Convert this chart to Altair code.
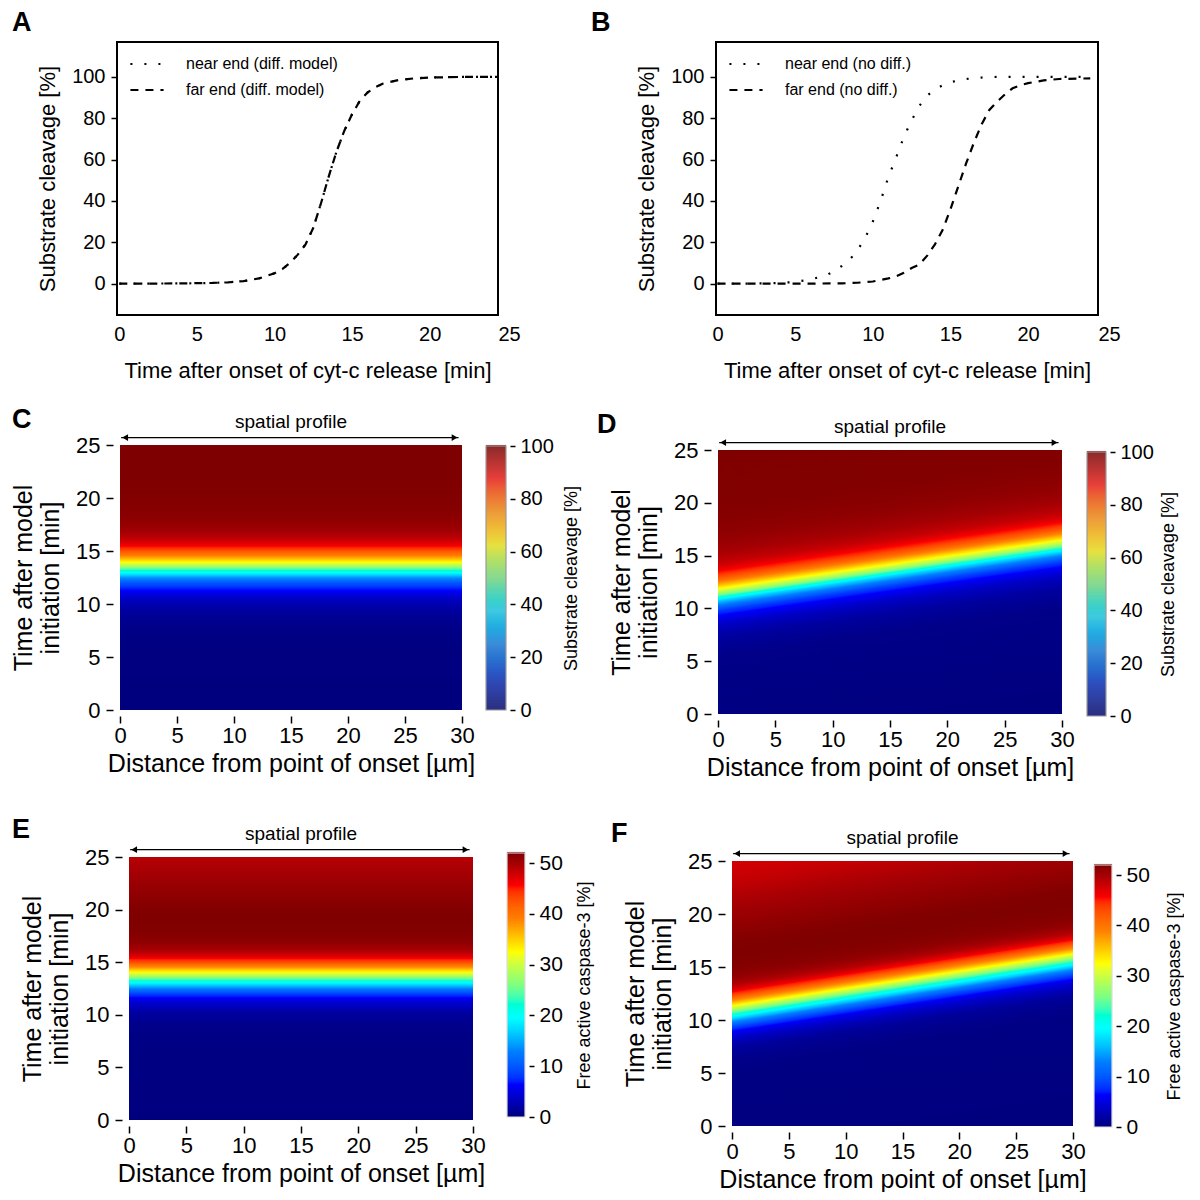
import altair as alt
import numpy as np
import pandas as pd

FONT = "Liberation Sans"

# ---------------- Panel A: substrate cleavage, diffusion model ----------------
A_time = [0, 2, 4, 6, 7, 8, 9, 10, 10.5, 11, 11.5, 12, 12.5, 13, 13.5, 14, 14.5,
          15, 15.5, 16, 16.5, 17, 18, 19, 20, 22, 24.4]
A_near = [0, 0, 0.1, 0.3, 0.6, 1.2, 2.5, 5, 7, 10, 14, 19, 27, 39, 52, 64, 74,
          82, 88.5, 92.5, 95, 96.8, 98.5, 99.3, 99.7, 100, 100]
A_far = [0, 0, 0.1, 0.3, 0.6, 1.2, 2.5, 5, 7, 10, 14, 19, 27, 39, 52, 64, 74,
         82, 88.5, 92.5, 95, 96.8, 98.5, 99.3, 99.7, 100, 100]
A_names = ["near end (diff. model)", "far end (diff. model)"]

# ---------------- Panel B: no diffusion ----------------
B_near_time = [0, 2, 4, 5, 6, 7, 7.5, 8, 8.5, 9, 9.5, 10, 10.5, 11, 11.5, 12, 12.5,
               13, 13.5, 14, 14.5, 15, 16, 17, 18, 20, 24]
B_near = [0, 0, 0.3, 0.8, 2, 4, 6, 8.5, 11.5, 16, 22, 30, 40, 51.5, 61, 71, 79,
          86, 91, 94, 96, 97.5, 99, 99.7, 100, 100, 100]
B_far_time = [0, 2, 4, 6, 8, 9, 10, 11, 11.5, 12, 12.5, 13, 13.5, 14, 14.5, 15, 15.5,
              16, 16.5, 17, 17.5, 18, 18.5, 19, 19.5, 20, 21, 22, 24]
B_far = [0, 0, 0, 0, 0.1, 0.4, 1, 2.5, 3.5, 5.2, 7.5, 9.2, 13.5, 19, 26, 36, 47,
         58, 68, 77, 84, 88, 91.5, 94.5, 96, 97, 98.3, 99, 99.3]
B_names = ["near end (no diff.)", "far end (no diff.)"]

# ---------------- Heat maps: profiles relative to the moving front ----------------
C_tau = A_time
C_val = A_near
C_front_dist = [0, 30]
C_front_time = [0, 0]

D_tau = [-14, -6, -5, -4, -3, -2.5, -2, -1.5, -1, -0.5, 0, 0.5, 1, 1.5, 2, 2.5, 3,
         4, 5, 6, 8, 14]
D_val = [0, 1, 2, 3.5, 6.5, 9, 12, 16, 24, 34, 50, 61, 71, 80, 86, 90, 93,
         96, 97.5, 98.5, 99.5, 100]
D_front_dist = [0, 30]
D_front_time = [11.3, 15.9]

EF_tau = [-14, -6, -5, -4, -3.5, -3, -2.5, -2, -1.5, -1, -0.5, 0, 0.5, 1, 1.5, 2,
          2.5, 3, 4, 5, 6, 7, 8, 9, 10, 11, 12, 14]
EF_val = [0, 0.3, 0.7, 1.5, 2.5, 3.8, 5.5, 8.5, 13, 19, 26, 32, 38, 43, 46.8, 49.3,
          50.5, 51.3, 51.8, 52, 51.8, 51.3, 50.8, 50.3, 49.7, 49, 48.3, 47.5]
E_front_dist = [0, 30]
E_front_time = [14.0, 14.0]
F_front_dist = [0, 30]
F_front_time = [11.3, 16.2]

JET = ["#00007F", "#0000FF", "#007FFF", "#00FFFF", "#7FFF7F",
       "#FFFF00", "#FF7F00", "#FF0000", "#7F0000"]
JET_SOFT = ["#2B2F80", "#2D4FC0", "#3C8CD8", "#40C8E0", "#88D890",
            "#E8E040", "#EC9A3A", "#E8403A", "#8C2A2A"]

T_MAX = 25.0


def band_table(tau, val, front_d, front_t, lo, hi, step=0.1, overlap=0.2):
    d0, d1 = front_d[0], front_d[-1]
    f0, f1 = front_t[0], front_t[-1]

    def front(d):
        return f0 + (f1 - f0) * (d - d0) / (d1 - d0)

    grid = np.arange(lo, hi + 1e-9, step)
    rows = []
    for i in range(len(grid) - 1):
        a, b = grid[i], grid[i + 1] + overlap
        v = float(np.interp((grid[i] + grid[i + 1]) / 2, tau, val))
        ds = {d0, d1}
        if f1 != f0:
            for off in (a, b):
                for lev in (0.0, T_MAX):
                    dd = d0 + (lev - off - f0) * (d1 - d0) / (f1 - f0)
                    if d0 < dd < d1:
                        ds.add(dd)
        pts = sorted(ds)
        lows = [min(max(front(d) + a, 0.0), T_MAX) for d in pts]
        highs = [min(max(front(d) + b, 0.0), T_MAX) for d in pts]
        if all(h - l < 1e-9 for l, h in zip(lows, highs)):
            continue
        for d, l, h in zip(pts, lows, highs):
            rows.append({"band": f"b{i:04d}", "d": d, "t": l, "t2": h, "v": v})
    return pd.DataFrame(rows)


def line_panel(frames, names, letter, letter_dx, width, height, xdom):
    df = pd.concat(frames, ignore_index=True)
    xmax = xdom[1]
    chart = alt.Chart(df).mark_line(color="black", strokeWidth=2.2, clip=True).encode(
        x=alt.X("t:Q",
                scale=alt.Scale(domain=xdom, nice=False, zero=False),
                axis=alt.Axis(title="Time after onset of cyt-c release [min]",
                              values=[0, 5, 10, 15, 20, xmax], domain=False, grid=False,
                              ticks=False, labelPadding=9, labelFontSize=20,
                              labelExpr="datum.value > 24 ? '25' : datum.label",
                              labelAlign={"condition": {"test": "datum.value > 24",
                                                        "value": "left"},
                                          "value": "center"},
                              titleFontSize=22, titlePadding=16, labelFlush=False)),
        y=alt.Y("v:Q",
                scale=alt.Scale(domain=[-15.2, 116.9], nice=False, zero=False),
                axis=alt.Axis(title="Substrate cleavage [%]",
                              values=[0, 20, 40, 60, 80, 100], domain=False, grid=False,
                              tickSize=6, tickWidth=1.5, tickColor="black",
                              labelPadding=6, labelFontSize=20, titleFontSize=22,
                              titlePadding=12)),
        strokeDash=alt.StrokeDash(
            "series:N",
            scale=alt.Scale(domain=names, range=[[2, 12], [8, 7]]),
            legend=alt.Legend(title=None, orient="none", legendX=12, legendY=4,
                              labelFontSize=16, symbolSize=1100, symbolStrokeWidth=2,
                              symbolStrokeColor="black", symbolType="stroke",
                              labelOffset=21, rowPadding=0, padding=0)),
        order="t:Q",
    ).properties(
        width=width, height=height,
        view=alt.ViewBackground(stroke="black", strokeWidth=2),
        title=alt.TitleParams(letter, anchor="start", frame="group", dx=letter_dx,
                              dy=28, fontSize=27, fontWeight="bold", offset=12,
                              baseline="alphabetic"),
    )
    return chart


def heat_panel(df, cmax, ticks, ctitle, W, H, xoff, yoff, bar_x, bar_y, bar_soft,
               bar_stroke, bar_label_size, bar_title_pad, letter, letter_dx, letter_dy):
    stops = list(np.linspace(0, cmax, 9))
    cscale = alt.Scale(domain=stops, range=JET)
    xs = alt.Scale(domain=[0, 30], range=[xoff, W], nice=False, zero=False)
    ys = alt.Scale(domain=[0, 25], range=[H, yoff], nice=False, zero=False)
    x_axis = alt.Axis(title="Distance from point of onset [µm]",
                      values=[0, 5, 10, 15, 20, 25, 30], domain=False,
                      grid=False, tickSize=7, tickWidth=1.5, tickColor="black",
                      offset=6, labelPadding=2, labelFontSize=22,
                      titleFontSize=25, titlePadding=5, labelFlush=False)
    y_axis = alt.Axis(title=["Time after model", "initiation [min]"],
                      values=[0, 5, 10, 15, 20, 25], domain=False, grid=False,
                      tickSize=7, tickWidth=1.5, tickColor="black",
                      offset=7 - xoff, labelPadding=6, labelFontSize=22,
                      titleFontSize=25, titlePadding=12, titleLineHeight=27)
    heat = alt.Chart(df).mark_area(clip=True).encode(
        x=alt.X("d:Q", scale=xs, axis=x_axis),
        y=alt.Y("t:Q", scale=ys, axis=y_axis),
        y2="t2:Q",
        color=alt.Color("v:Q", scale=cscale, legend=None),
        detail="band:N",
    )
    ann_df = pd.DataFrame({"x": [15], "y": [27.2], "label": ["spatial profile"]})
    text = alt.Chart(ann_df).mark_text(fontSize=19, baseline="middle", color="black").encode(
        x=alt.X("x:Q", scale=xs, axis=x_axis), y=alt.Y("y:Q", scale=ys, axis=y_axis),
        text="label:N")
    arrow_df = pd.DataFrame({"x": [0.1], "x2": [29.7], "y": [25.7]})
    rule = alt.Chart(arrow_df).mark_rule(color="black", strokeWidth=1.3).encode(
        x=alt.X("x:Q", scale=xs, axis=x_axis), x2="x2:Q",
        y=alt.Y("y:Q", scale=ys, axis=y_axis))
    head_df = pd.DataFrame({"x": [0.45, 29.35], "y": [25.7, 25.7],
                            "shape": ["triangle-left", "triangle-right"]})
    heads = alt.Chart(head_df).mark_point(filled=True, color="black", opacity=1, size=45).encode(
        x=alt.X("x:Q", scale=xs, axis=x_axis), y=alt.Y("y:Q", scale=ys, axis=y_axis),
        shape=alt.Shape("shape:N", scale=None))
    inner = alt.layer(heat, rule, heads, text)

    # colour bar drawn from the colour scale itself
    edges = np.linspace(0, cmax, 161)
    bar_df = pd.DataFrame({"v": edges[:-1], "v2": edges[1:] + cmax * 0.004,
                           "vm": (edges[:-1] + edges[1:]) / 2, "x0": 0, "x1": 1})
    bscale = alt.Scale(domain=stops, range=JET_SOFT if bar_soft else JET)
    bxs = alt.Scale(domain=[0, 1], range=[W + bar_x[0], W + bar_x[1]])
    bys = alt.Scale(domain=[0, cmax], range=[bar_y[1], bar_y[0]], nice=False, zero=False)
    b_axis = alt.Axis(orient="right", title=ctitle, values=ticks, domain=False,
                      grid=False, tickSize=5, tickWidth=1.5, tickColor="black",
                      offset=bar_x[1] + 4, labelPadding=5,
                      labelFontSize=bar_label_size,
                      titleFontSize=18, titleAngle=270, titleBaseline="top",
                      titlePadding=bar_title_pad, labelFlush=False)
    bar = alt.Chart(bar_df).mark_rect().encode(
        x=alt.X("x0:Q", scale=bxs, axis=None), x2="x1:Q",
        y=alt.Y("v:Q", scale=bys, axis=b_axis),
        y2="v2:Q",
        fill=alt.Fill("vm:Q", scale=bscale, legend=None),
    )
    frame_df = pd.DataFrame({"x0": [0], "x1": [1], "v": [0], "v2": [cmax]})
    frame = alt.Chart(frame_df).mark_rect(fillOpacity=0, stroke=bar_stroke,
                                          strokeWidth=1.2).encode(
        x=alt.X("x0:Q", scale=bxs, axis=None), x2="x1:Q",
        y=alt.Y("v:Q", scale=bys, axis=b_axis), y2="v2:Q")
    cbar = alt.layer(bar, frame)

    return alt.layer(inner, cbar).resolve_scale(
        x="independent", y="independent", color="independent", fill="independent"
    ).properties(
        width=W, height=H,
        title=alt.TitleParams(letter, anchor="start", frame="group", dx=letter_dx,
                              dy=letter_dy, fontSize=27, fontWeight="bold", offset=0,
                              baseline="alphabetic"),
    )


dfA = [pd.DataFrame({"t": A_time, "v": A_near, "series": A_names[0]}),
       pd.DataFrame({"t": A_time, "v": A_far, "series": A_names[1]})]
dfB = [pd.DataFrame({"t": B_near_time, "v": B_near, "series": B_names[0]}),
       pd.DataFrame({"t": B_far_time, "v": B_far, "series": B_names[1]})]

pA = line_panel(dfA, A_names, "A", -105, 381, 273, [-0.15, 24.4])
pB = line_panel(dfB, B_names, "B", -125, 382, 273, [-0.1, 24.5])

dC = band_table(C_tau, C_val, C_front_dist, C_front_time, -1, 26)
dD = band_table(D_tau, D_val, D_front_dist, D_front_time, -16.5, 14.5)
dE = band_table(EF_tau, EF_val, E_front_dist, E_front_time, -14.5, 11.5)
dF = band_table(EF_tau, EF_val, F_front_dist, F_front_time, -17, 14.5)

pct = [0, 20, 40, 60, 80, 100]
casp = [0, 10, 20, 30, 40, 50]
pC = heat_panel(dC, 100, pct, "Substrate cleavage [%]", 345, 265, 3, 0,
                (24, 44), (1, 265), True, "#9a9a9a", 20, 9, "C", -105, 42)
pD = heat_panel(dD, 100, pct, "Substrate cleavage [%]", 346, 269, 2, 5,
                (25, 44), (7, 271), True, "#9a9a9a", 20, 6, "D", -119, 42)
pE = heat_panel(dE, 52, casp, "Free active caspase-3 [%]", 356, 276, 12, 13,
                (34, 52), (9, 273), False, "#dddddd", 21, 13, "E", -105, 40)
pF = heat_panel(dF, 52, casp, "Free active caspase-3 [%]", 357, 282, 16, 17,
                (21, 39), (21, 283), False, "#dddddd", 21, 16, "F", -105, 40)

chart = alt.concat(pA, pB, pC, pD, pE, pF, columns=2, bounds="flush", align="each",
                   spacing={"row": 130, "column": 218}).resolve_scale(
    x="independent", y="independent", color="independent", fill="independent",
    strokeDash="independent", shape="independent")

chart = chart.properties(padding={"left": 3, "top": 0, "right": 0, "bottom": 0}).configure(
    font=FONT
).configure_view(stroke=None).configure_axis(
    labelColor="black", titleColor="black", titleFontWeight="normal",
    labelFont=FONT, titleFont=FONT
).configure_legend(labelColor="black", titleColor="black", labelFont=FONT,
                   titleFont=FONT).configure_title(color="black", font=FONT)

chart.save("out.html", embed_options={"renderer": "svg", "actions": False})
